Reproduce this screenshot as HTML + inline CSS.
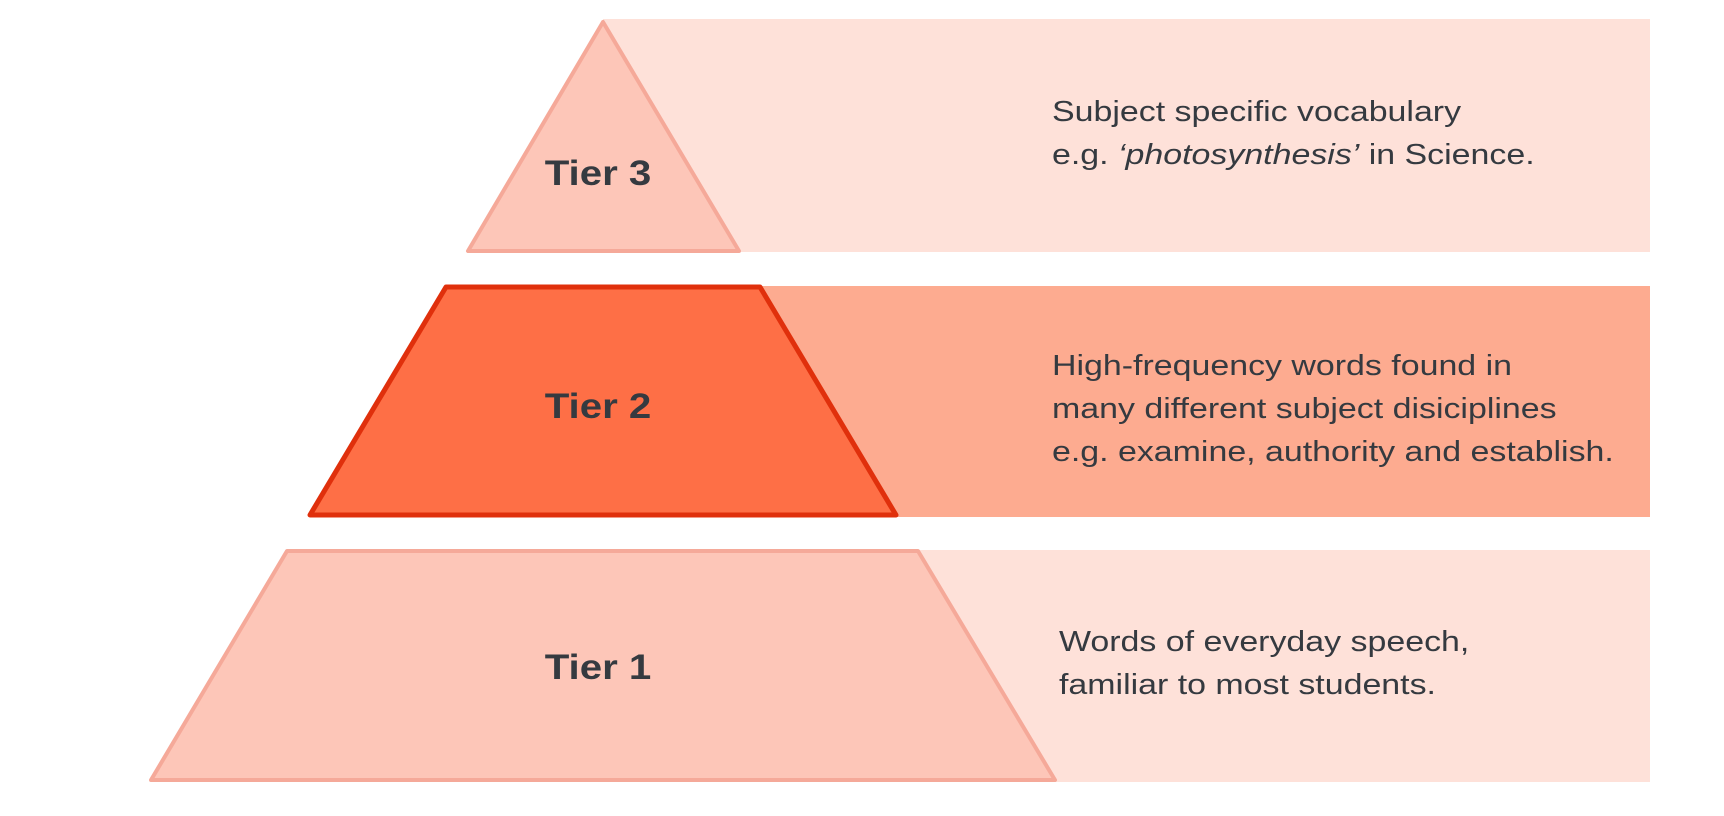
<!DOCTYPE html>
<html><head><meta charset="utf-8"><style>
html,body{margin:0;padding:0;background:#fff;width:1724px;height:816px;overflow:hidden}
text{font-family:"Liberation Sans",sans-serif;fill:#353a40}
</style></head><body>
<svg width="1724" height="816" viewBox="0 0 1724 816">
<rect x="603" y="19" width="1047" height="233" fill="#fee1d9"/>
<polygon points="603,22 468,251 739,251" fill="#fdc6b8" stroke="#f5a999" stroke-width="4" stroke-linejoin="round"/>
<rect x="700" y="286" width="950" height="231" fill="#fdab90"/>
<polygon points="446,287 760,287 896,515 310,515" fill="#fe6f46" stroke="#e0300c" stroke-width="5" stroke-linejoin="round"/>
<rect x="860" y="550" width="790" height="232" fill="#fee1d9"/>
<polygon points="287,551 918,551 1055,780 151,780" fill="#fdc6b8" stroke="#f5a999" stroke-width="4" stroke-linejoin="round"/>
<g font-weight="bold" font-size="35" text-anchor="middle" transform="translate(598,0) scale(1.15,1)">
<text x="0" y="185">Tier 3</text>
<text x="0" y="418">Tier 2</text>
<text x="0" y="679">Tier 1</text>
</g>
<g font-size="29" transform="translate(1052,0) scale(1.17,1)">
<text x="0" y="121">Subject specific vocabulary</text>
<text x="0" y="164">e.g. <tspan font-style="italic">‘photosynthesis’</tspan> in Science.</text>
<text x="0" y="375">High-frequency words found in</text>
<text x="0" y="418">many different subject disiciplines</text>
<text x="0" y="461">e.g. examine, authority and establish.</text>
</g>
<g font-size="29" transform="translate(1059,0) scale(1.17,1)">
<text x="0" y="651">Words of everyday speech,</text>
<text x="0" y="694">familiar to most students.</text>
</g>
</svg>
</body></html>
